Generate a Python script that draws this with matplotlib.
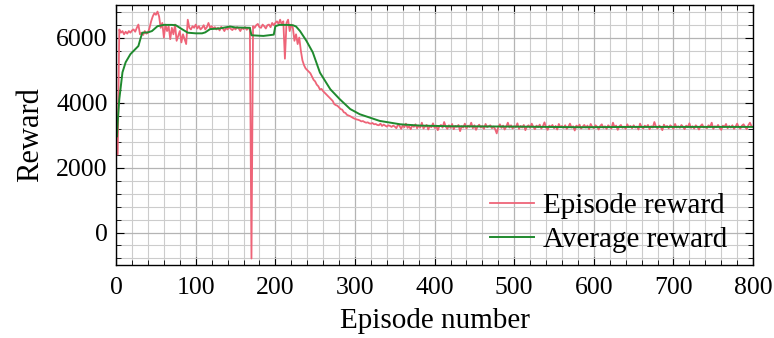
import numpy as np
import matplotlib
matplotlib.use('Agg')
import matplotlib.pyplot as plt
from matplotlib.ticker import MultipleLocator

plt.rcParams['font.family'] = ['Liberation Serif', 'DejaVu Serif']

# Episode reward, one value every 2 episodes (0..798)
episode_reward = [
    # 0-28
    3500, 2400, 6250, 6150, 6200, 6100, 6180, 6120, 6200, 6150, 6220, 6250, 6180, 6300, 6400,
    # 30-58
    6100, 6150, 6080, 6200, 6120, 6150, 6300, 6500, 6650, 6750, 6700, 6800, 6650, 6300, 6450,
    # 60-88
    6000, 6400, 6200, 6350, 5950, 6300, 6100, 6400, 5900, 6050, 6200, 5850, 6100, 5950, 5800,
    # 90-118
    6550, 6300, 6250, 6350, 6300, 6400, 6280, 6350, 6250, 6300, 6380, 6250, 6320, 6450, 6300,
    # 120-148
    6350, 6280, 6320, 6250, 6300, 6220, 6330, 6280, 6200, 6300, 6250, 6320, 6270, 6230, 6300,
    # 150-168
    6250, 6320, 6280, 6200, 6300, 6260, 6320, 6240, 6280, 6300,
    # 170
    -800,
    # 172-198
    6350, 6300, 6380, 6420, 6320, 6300, 6400, 6350, 6280, 6380, 6400, 6320, 6450, 6380,
    # 200-228
    6450, 6500, 6420, 6550, 6400, 6500, 5350, 6450, 6550, 6200, 6400, 6300, 5900, 6100, 5800,
    # 230-258
    6000, 5600, 5300, 5150, 5050, 5000, 4950, 4900, 4800, 4700, 4650, 4550, 4500, 4400, 4420,
    # 260-288
    4350, 4300, 4250, 4200, 4150, 4100, 4050, 3950, 3920, 3900, 3850, 3800, 3780, 3700, 3680,
    # 290-318
    3620, 3600, 3580, 3550, 3520, 3500, 3480, 3470, 3450, 3420, 3430, 3400, 3380, 3390, 3360,
    # 320-348
    3350, 3370, 3330, 3340, 3310, 3300, 3350, 3280, 3320, 3290, 3260, 3300, 3280, 3250, 3290,
    # 350-798
    3260, 3210, 3320, 3280, 3190, 3300, 3240, 3350, 3220, 3270, 3180, 3300, 3250, 3330, 3210,
    3290, 3230, 3380, 3200, 3260, 3310, 3170, 3280, 3240, 3360, 3220, 3290, 3150, 3270, 3310,
    3230, 3400, 3260, 3190, 3300, 3220, 3340, 3180, 3280, 3250, 3310, 3120, 3270, 3230, 3350,
    3200, 3290, 3250, 3380, 3210, 3300, 3160, 3260, 3320, 3230, 3280, 3190, 3340, 3240, 3270,
    3300, 3210, 3260, 3180, 3050, 3250, 3330, 3220, 3290, 3170, 3260, 3380, 3230, 3300, 3200,
    3270, 3240, 3360, 3190, 3280, 3230, 3310, 3150, 3260, 3300, 3220, 3350, 3250, 3180, 3290,
    3240, 3320, 3200, 3270, 3390, 3230, 3160, 3290, 3250, 3310, 3210, 3280, 3170, 3340, 3240,
    3280, 3220, 3300, 3190, 3260, 3350, 3230, 3270, 3140, 3290, 3250, 3320, 3200, 3260, 3310,
    3230, 3290, 3180, 3340, 3250, 3210, 3300, 3260, 3170, 3280, 3330, 3220, 3270, 3190, 3300,
    3250, 3200, 3380, 3240, 3290, 3160, 3270, 3310, 3220, 3260, 3190, 3330, 3240, 3280, 3210,
    3300, 3230, 3260, 3170, 3350, 3250, 3200, 3290, 3240, 3310, 3180, 3270, 3230, 3400, 3260,
    3200, 3290, 3250, 3150, 3320, 3240, 3280, 3210, 3300, 3260, 3190, 3340, 3230, 3270, 3220,
    3310, 3250, 3180, 3290, 3240, 3360, 3220, 3270, 3200, 3300, 3250, 3170, 3280, 3330, 3230,
    3260, 3210, 3300, 3250, 3380, 3190, 3270, 3240, 3310, 3220, 3160, 3290, 3250, 3340, 3210,
    3280, 3230, 3300, 3190, 3260, 3350, 3240, 3200, 3290, 3330, 3250, 3180, 3300, 3380, 3270,
]
episodes = np.arange(0, 800, 2)

# Average reward (smooth curve, read at key episodes)
avg_episodes = [0, 1, 2, 4, 8, 12, 18, 28, 31, 33, 40, 45, 52, 60, 70, 75, 80, 90, 100, 108,
                112, 118, 130, 143, 150, 168, 170, 185, 198, 200, 205, 215, 222, 226, 231,
                239, 247, 256, 269, 281, 294, 306, 331, 357, 382, 420, 500, 583, 650, 720, 800]
avg_reward = [3150, 2950, 3400, 4100, 4930, 5240, 5490, 5740, 6000, 6150, 6160, 6200, 6350,
              6390, 6390, 6380, 6300, 6150, 6130, 6130, 6160, 6260, 6280, 6340, 6310, 6300,
              6070, 6050, 6090, 6350, 6390, 6390, 6380, 6340, 6200, 5900, 5545, 4920, 4410,
              4100, 3800, 3640, 3435, 3330, 3290, 3270, 3260, 3240, 3250, 3250, 3250]

fig = plt.figure(figsize=(7.74, 3.38), dpi=100)
ax = fig.add_axes([0.150, 0.216, 0.823, 0.769])

ax.plot(episodes, episode_reward, color='#ee6478', lw=1.3, label='Episode reward')
ax.plot(avg_episodes, avg_reward, color='#1f8a2e', lw=1.4, label='Average reward')

ax.set_xlim(0, 800)
ax.set_ylim(-1000, 7000)
ax.xaxis.set_major_locator(MultipleLocator(100))
ax.xaxis.set_minor_locator(MultipleLocator(20))
ax.yaxis.set_major_locator(MultipleLocator(2000))
ax.yaxis.set_minor_locator(MultipleLocator(400))
ax.grid(which='major', color='#b4b4b4', lw=0.9)
ax.grid(which='minor', color='#cccccc', lw=0.8)
ax.set_axisbelow(True)
ax.tick_params(which='both', direction='in', top=True, right=True, labelsize=18.5)
ax.tick_params(which='major', length=6, width=0.8)
ax.tick_params(axis='x', which='major', pad=9)
ax.tick_params(axis='y', which='major', pad=6)
ax.tick_params(which='minor', length=3.5, width=0.6)
for s in ax.spines.values():
    s.set_linewidth(1.0)

ax.set_xlabel('Episode number', fontsize=21, labelpad=6)
ax.set_ylabel('Reward', fontsize=22, labelpad=8)

leg = ax.legend(loc='lower right', bbox_to_anchor=(0.977, 0.0), fontsize=21, frameon=False,
                handlelength=1.5, handletextpad=0.3, labelspacing=0.28, borderaxespad=0.0)

plt.savefig('out.png', dpi=100)
